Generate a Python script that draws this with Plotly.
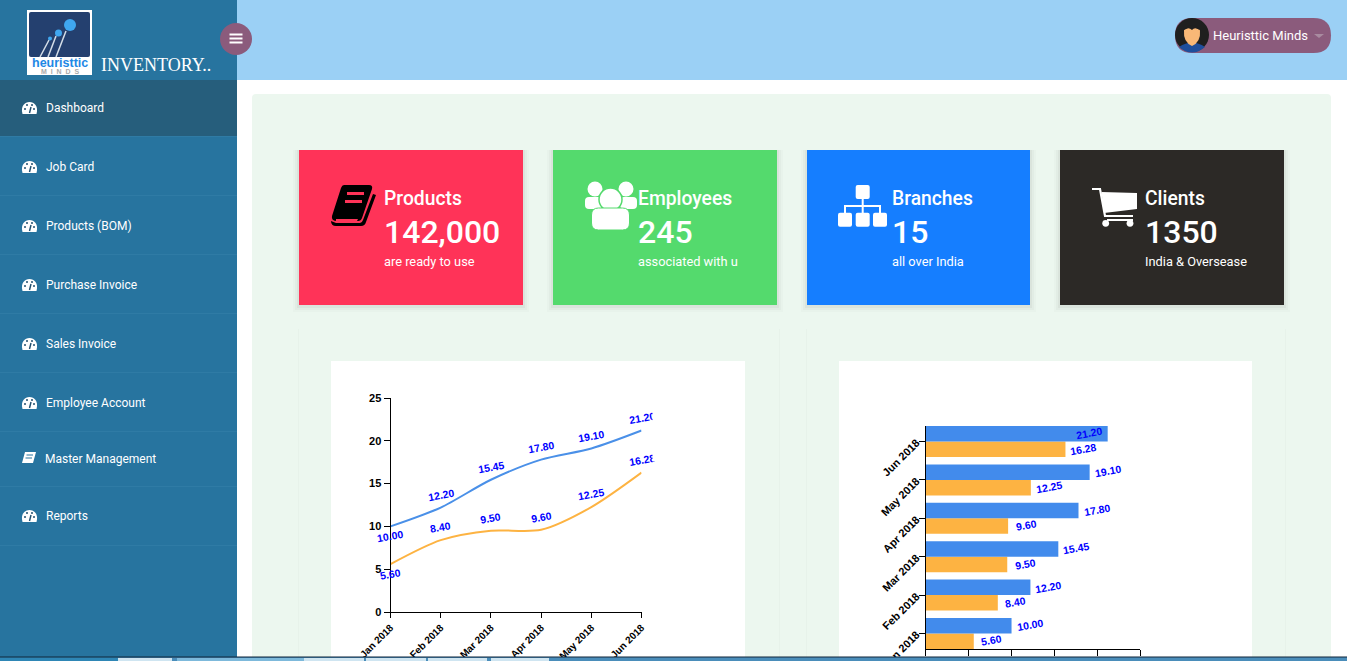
import plotly.graph_objects as go

W = 1347
H = 661

# chart data
months = ["Jan 2018", "Feb 2018", "Mar 2018", "Apr 2018", "May 2018", "Jun 2018"]
blue_vals = [10.00, 12.20, 15.45, 17.80, 19.10, 21.20]
orange_vals = [5.60, 8.40, 9.50, 9.60, 12.25, 16.28]

menu_items = ["Dashboard", "Job Card", "Products (BOM)", "Purchase Invoice",
              "Sales Invoice", "Employee Account", "Master Management", "Reports"]
card_titles = ["Products", "Employees", "Branches", "Clients"]
card_numbers = ["142,000", "245", "15", "1350"]
card_notes = ["are ready to use", "associated with u", "all over India", "India & Oversease"]

BLUE = "#428BEC"
ORANGE = "#FDB342"
PURPLE = "#8B5B7C"
SIDE = "#27749F"

shapes = []
notes = []


def rect(x0, y0, x1, y1, color, layer="below"):
    shapes.append(dict(type="rect", xref="x", yref="y", x0=x0, y0=y0, x1=x1, y1=y1,
                       fillcolor=color, line=dict(width=0), layer=layer))


def circle(cx, cy, r, color, line=None):
    shapes.append(dict(type="circle", xref="x", yref="y", x0=cx - r, y0=cy - r, x1=cx + r, y1=cy + r,
                       fillcolor=color, line=dict(width=1.5, color=line) if line else dict(width=0),
                       layer="below"))


def path(d, color=None, line=None, width=1):
    shapes.append(dict(type="path", xref="x", yref="y", path=d, fillcolor=color or "rgba(0,0,0,0)",
                       line=dict(width=width, color=line) if line else dict(width=0), layer="below"))


def rrect(x0, y0, x1, y1, r, color, line=None):
    d = (f"M{x0 + r},{y0} L{x1 - r},{y0} Q{x1},{y0} {x1},{y0 + r} L{x1},{y1 - r} Q{x1},{y1} {x1 - r},{y1} "
         f"L{x0 + r},{y1} Q{x0},{y1} {x0},{y1 - r} L{x0},{y0 + r} Q{x0},{y0} {x0 + r},{y0} Z")
    path(d, color, line)


def label(x, y, text, size=12, color="white", family="Roboto", weight="normal", anchor="left"):
    # annotations carry a small padding, pull the text back onto its spot
    notes.append(dict(xref="x", yref="y", x=x - 2 if anchor == "left" else x, y=y, text=text, showarrow=False,
                      xanchor=anchor, yanchor="middle",
                      font=dict(family=family, size=size, color=color, weight=weight)))


def gauge(cx, cy):
    d = (f"M{cx - 7},{cy + 6} C{cx - 11.5},{cy - 10} {cx + 11.5},{cy - 10} {cx + 7},{cy + 6} Z")
    path(d, "white")
    path(f"M{cx},{cy + 5} L{cx + 1.5},{cy - 1}", line="#1F4E6E", width=1.4)
    circle(cx - 4.5, cy + 1, 1, "#1F4E6E")
    circle(cx + 4.5, cy + 1, 1, "#1F4E6E")
    circle(cx - 2.5, cy - 3, 1, "#1F4E6E")
    circle(cx + 2.5, cy - 3, 1, "#1F4E6E")


# page blocks
rect(237, 0, W, 80, "#9BD0F5")
rect(0, 0, 237, H, SIDE)
rect(0, 80, 237, 136, "#265E7C")
for y in [136, 195, 254, 313, 372, 431, 486, 545]:
    rect(0, y, 237, y + 1, "#2F7BA5")
rrect(252, 94, 1331, 700, 4, "#ECF7EF")
# faint edges of the chart panels
for x in [298, 779, 806, 1285]:
    rect(x, 329, x + 1, 657, "#E7F2EA")
rect(331, 361, 745, 657, "white")
rect(839, 361, 1252, 657, "white")

# logo
rect(27, 10, 92, 75, "white")
rrect(29, 12, 90, 57, 2, "#24406F")
for a, b, c, d in [(40, 57, 49, 40), (48, 57, 56, 36), (56, 57, 66, 31)]:
    path(f"M{a},{b} L{c},{d}", line="#D5DEE8", width=1.5)
circle(70, 25, 6, "#3FA7F0")
circle(58.5, 33, 3.5, "#3FA7F0")
circle(50, 38.5, 2, "#3FA7F0")
label(59.5, 62.5, "heuristtic", 12.5, "#1E88E5", "Liberation Sans", "bold", "center")
label(59.5, 71.5, "M  I  N  D  S", 7, "#A9A9A9", "Liberation Sans", "bold", "center")
label(101, 65, "INVENTORY..", 18, "white", "Liberation Serif")

# toggle button
circle(236, 39, 16, PURPLE)
for y in [34.5, 38.5, 42.5]:
    rect(229.5, y - 1, 242.5, y + 1, "white")

# user pill
rrect(1175, 18, 1331, 53, 17.5, PURPLE)
circle(1192, 35, 17, "#1F1F1F")
path("M1179,47 Q1192,38 1205,47 Q1192,58 1179,47 Z", "#1E4E9C")
path("M1184,30 Q1192,24 1200,30 Q1201,42 1192,46 Q1183,42 1184,30 Z", "#F9B877")
path("M1183,31 Q1192,19 1201,31 Q1195,26 1192,30 Q1188,26 1183,31 Z", "#1F1F1F")
label(1213, 35, "Heuristtic Minds", 13, "white")
path("M1314,34 L1324,34 L1319,38 Z", "#A98BA0")

# menu
menu_y = [107, 166, 225, 284, 343, 402, 458, 515]
for i, (name, y) in enumerate(zip(menu_items, menu_y)):
    label(45 if name.startswith("Master") else 46, y + 1, name, 12)
    if name.startswith("Master"):
        path(f"M25,{y - 6} L36,{y - 6} L33,{y + 5} L22,{y + 5} Z", "white")
        path(f"M26.5,{y - 3} L33,{y - 3} M25.5,{y} L32,{y}", line=SIDE, width=1)
    else:
        gauge(29.5, y + 1)

# stat cards
card_x = [(299, 523), (553, 777), (807, 1030), (1060, 1284)]
card_colors = ["#FF3358", "#54DA6D", "#157EFF", "#2C2926"]
text_x = [384, 638, 892, 1145]
for (x0, x1), c, tx, t, n, s in zip(card_x, card_colors, text_x, card_titles, card_numbers, card_notes):
    for grow, alpha in [(6, 0.015), (4, 0.025), (2, 0.035)]:
        rect(x0 - grow, 150, x1 + grow, 305 + grow + 1, f"rgba(0,0,0,{alpha})")
    rect(x0, 150, x1, 305, c)
    label(tx, 198.5, t, 19.3, "white", "Roboto", 500)
    label(tx, 232, n, 32, "white", "Roboto", 500)
    label(tx, 261, s, 12.8)

# book icon
path("M344,185 L369,185 Q373,185 372,189 L362,218 Q361,221 358,221 L337,221 Q331,221 332,216 L341,188 Q342,185 344,185 Z", "black")
path("M373,194 L376,195 L366,222 Q365,226 361,226 L336,226 Q331,226 331,221 L336,223 L360,223 Q362,223 363,220 Z", "black")
path("M336,219 L358,219 L357,221 L336,221 Z", "#FF3358")
rect(347, 192, 364, 195, "#FF3358")
rect(345, 200, 362, 203, "#FF3358")

# people icon
circle(595, 189, 7.5, "white")
circle(626, 189, 7.5, "white")
rrect(585, 197, 602, 209, 4, "white")
rrect(620, 197, 637, 209, 4, "white")
circle(610.5, 199.5, 11.5, "white", "#54DA6D")
rrect(591.5, 208, 629.5, 230, 7, "white", "#54DA6D")

# tree icon
rrect(855.7, 185, 869.7, 199, 2, "white")
for x in [838, 855.7, 873]:
    rrect(x, 212.7, x + 14, 226.7, 2, "white")
path("M862.7,199 L862.7,213 M845,213 L845,206 L880,206 L880,213", line="white", width=2)

# cart icon
path("M1092,189 L1100,189 L1105,216 L1133,216", line="white", width=2.2)
path("M1101.5,192 L1137,193 L1137,209 L1104,213 Z", "white")
path("M1107,220 L1133,220", line="white", width=2)
circle(1105.7, 223.3, 3.4, "white")
circle(1130, 223.3, 3.4, "white")

# browser strip at the bottom
rect(0, 657, W, H, "#4A8DBA", "above")
rect(0, 657, 118, H, "#2E86B5", "above")
rect(177, 658, 304, H, "#7DB9DB", "above")
for a, b in [(118, 172), (304, 364), (366, 426), (428, 487), (491, 549)]:
    rect(a, 658, b, H, "#CFE5F1", "above")
rect(0, 656.6, W, 657.6, "#10273A", "above")

# chart value labels
for i, m in enumerate(months):
    for vals in [blue_vals, orange_vals]:
        notes.append(dict(xref="x2", yref="y2", x=m, y=vals[i], text=f"{vals[i]:.2f}", showarrow=False,
                          yshift=-10 if i == 0 else 13, textangle=-10,
                          font=dict(family="Liberation Sans", size=10.5, color="#0000FF", weight="bold")))
        notes.append(dict(xref="x3", yref="y3", x=vals[i], y=m, text=f"{vals[i]:.2f}", showarrow=False,
                          xshift=-19 if vals[i] > 20 else 18, yshift=8.5 if vals is blue_vals else -7,
                          textangle=-10,
                          font=dict(family="Liberation Sans", size=10.5, color="#0000FF", weight="bold")))

# the line chart svg cuts the last labels off on the right
notes.append(dict(xref="x", yref="y", x=652, y=435, text=" ", showarrow=False, xanchor="left", yanchor="middle",
                  width=14, height=50, bgcolor="white"))

fig = go.Figure()

# empty trace to hold the pixel axes used by the page blocks
fig.add_trace(go.Scatter(x=[], y=[], xaxis="x", yaxis="y", hoverinfo="skip", showlegend=False))

fig.add_trace(go.Scatter(x=months, y=blue_vals, mode="lines", xaxis="x2", yaxis="y2", showlegend=False,
                         line=dict(color="#4A90E8", width=2, shape="spline", smoothing=0.8)))
fig.add_trace(go.Scatter(x=months, y=orange_vals, mode="lines", xaxis="x2", yaxis="y2", showlegend=False,
                         line=dict(color=ORANGE, width=2, shape="spline", smoothing=0.8)))

fig.add_trace(go.Bar(y=months, x=orange_vals, orientation="h", xaxis="x3", yaxis="y3",
                     marker=dict(color=ORANGE, line=dict(width=0)), showlegend=False))
fig.add_trace(go.Bar(y=months, x=blue_vals, orientation="h", xaxis="x3", yaxis="y3",
                     marker=dict(color=BLUE, line=dict(width=0)), showlegend=False))

tick_font = dict(family="Liberation Sans", size=11, color="black", weight="bold")
axis_style = dict(showgrid=False, zeroline=False, showline=True, linecolor="black", linewidth=1, automargin=False,
                  ticks="outside", tickcolor="black")

fig.update_layout(
    width=W,
    height=H,
    margin=dict(l=0, r=0, t=0, b=0),
    paper_bgcolor="white",
    plot_bgcolor="rgba(0,0,0,0)",
    barmode="group",
    bargap=0.19,
    bargroupgap=0,
    showlegend=False,
    xaxis=dict(domain=[0, 1], range=[0, W], visible=False, fixedrange=True, automargin=False),
    yaxis=dict(domain=[0, 1], range=[H, 0], visible=False, fixedrange=True, automargin=False),
    xaxis2=dict(domain=[390.5 / W, 641.5 / W], anchor="y2", type="category", categoryorder="array",
                categoryarray=months, range=[0, 5], tickangle=-45, ticklen=5,
                tickfont=dict(tick_font, size=10), **axis_style),
    yaxis2=dict(domain=[1 - 612 / H, 1 - 398 / H], anchor="x2", range=[0, 25], dtick=5, ticklen=6,
                tickfont=tick_font, **axis_style),
    xaxis3=dict(domain=[925.7 / W, 1140.3 / W], anchor="y3", range=[0, 25], dtick=5, ticklen=6,
                tickfont=tick_font, **axis_style),
    yaxis3=dict(domain=[1 - 649 / H, 1 - 426 / H], anchor="x3", type="category", categoryorder="array",
                categoryarray=months, range=[-0.405, 5.405], tickangle=-45, ticklen=6,
                tickfont=tick_font, **axis_style),
    shapes=shapes,
    annotations=notes,
)

fig.write_html("out.html", config=dict(displayModeBar=False),
               post_script="document.body.style.margin='0';document.body.style.overflow='hidden';")
